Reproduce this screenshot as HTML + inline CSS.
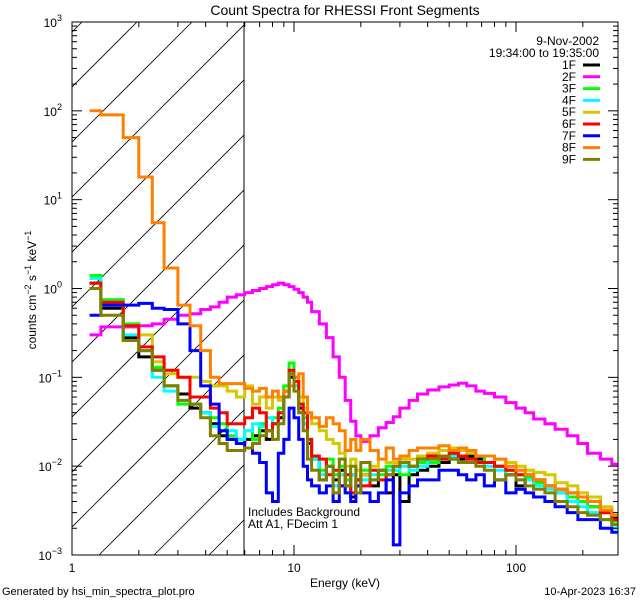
<!DOCTYPE html>
<html><head><meta charset="utf-8">
<style>
html,body{margin:0;padding:0;background:#fff;}
svg{display:block;font-family:"Liberation Sans",sans-serif;}
</style></head>
<body>
<svg id="chart" width="640" height="600" viewBox="0 0 640 600">
<rect width="640" height="600" fill="#fff"/>
<defs><clipPath id="hatchclip"><rect x="72" y="22" width="172" height="533"/></clipPath>
<clipPath id="plotclip"><rect x="72" y="22" width="546" height="533"/></clipPath></defs>
<g id="hatch" clip-path="url(#hatchclip)"></g>
<line x1="244" y1="22" x2="244" y2="555" stroke="#000" stroke-width="1"/>
<g id="series" clip-path="url(#plotclip)"></g>
<rect x="72" y="22" width="546" height="533" fill="none" stroke="#000" stroke-width="1"/>
<g id="axes"></g>
<text x="345" y="15" text-anchor="middle" font-size="14">Count Spectra for RHESSI Front Segments</text>
<text x="345" y="587" text-anchor="middle" font-size="12">Energy (keV)</text>
<text transform="translate(36,290) rotate(-90)" text-anchor="middle" font-size="12">counts cm<tspan dy="-5" font-size="9">−2</tspan><tspan dy="5"> s</tspan><tspan dy="-5" font-size="9">−1</tspan><tspan dy="5"> keV</tspan><tspan dy="-5" font-size="9">−1</tspan></text>
<text x="248" y="516" font-size="12">Includes Background</text>
<text x="248" y="528" font-size="12">Att A1, FDecim  1</text>
<text x="599" y="45" text-anchor="end" font-size="12">9-Nov-2002</text>
<text x="599" y="57" text-anchor="end" font-size="12">19:34:00 to 19:35:00</text>
<g id="legend"></g>
<text x="2" y="595" font-size="11">Generated by hsi_min_spectra_plot.pro</text>
<text x="636" y="595" text-anchor="end" font-size="11">10-Apr-2023 16:37</text>
</svg>
<script>
const edges=[1.2,1.35,1.7,2.0,2.3,2.6,3.0,3.4,3.8,4.2,4.6,5.0,5.5,6.0,6.5,7,7.5,8,8.5,9,9.5,10,10.5,11,11.5,12,13,14,15,16,17,18,19,20,22,24,26,28,30,33,36,40,45,50,55,60,66,72,80,90,100,110,120,135,150,170,190,210,240,270,290];
const seriesNames=["1F","2F","3F","4F","5F","6F","7F","8F","9F"];
const seriesColors=["#000000","#ff00ff","#00ff00","#00ffff","#d4c800","#ff0000","#0000ff","#ff8000","#808000"];
const s1F=[1.15,0.6,0.28,0.17,0.12,0.08,0.065,0.045,0.04,0.03,0.022,0.02,0.018, 0.02,0.022,0.025,0.02,0.03,0.035,0.06,0.1,0.08,0.045,0.03,0.018,0.012,0.007,0.01,0.007,0.009,0.006,0.0045,0.007,0.008,0.006,0.009,0.005,0.008,0.004,0.008,0.009,0.01,0.011,0.012,0.012,0.013,0.012,0.011,0.01,0.008,0.006,0.0075,0.007,0.006,0.005,0.0045,0.004,0.0035,0.003,0.0026];
const s2F=[0.3,0.37,0.37,0.38,0.4,0.45,0.5,0.52,0.58,0.62,0.7,0.8,0.85, 0.9,0.95,1.0,1.05,1.1,1.15,1.1,1.05,0.98,0.9,0.8,0.7,0.55,0.4,0.28,0.17,0.1,0.055,0.032,0.022,0.019,0.022,0.027,0.031,0.036,0.045,0.055,0.065,0.072,0.078,0.082,0.086,0.08,0.07,0.066,0.06,0.052,0.045,0.04,0.034,0.03,0.026,0.022,0.018,0.014,0.012,0.0105];
const s3F=[1.4,0.75,0.4,0.2,0.13,0.08,0.05,0.05,0.04,0.035,0.03,0.022,0.02, 0.025,0.02,0.03,0.025,0.035,0.045,0.08,0.145,0.1,0.05,0.035,0.02,0.012,0.009,0.012,0.008,0.01,0.007,0.008,0.006,0.009,0.007,0.008,0.01,0.009,0.008,0.01,0.011,0.011,0.013,0.014,0.013,0.012,0.013,0.011,0.01,0.009,0.008,0.0075,0.0065,0.006,0.005,0.0045,0.004,0.0035,0.003,0.0024];
const s4F=[1.3,0.65,0.3,0.2,0.1,0.07,0.055,0.05,0.04,0.028,0.025,0.025,0.02, 0.025,0.03,0.028,0.035,0.03,0.04,0.07,0.11,0.08,0.05,0.03,0.02,0.012,0.008,0.01,0.006,0.008,0.005,0.008,0.006,0.007,0.008,0.007,0.009,0.009,0.01,0.009,0.01,0.012,0.012,0.013,0.013,0.011,0.011,0.01,0.009,0.008,0.007,0.007,0.006,0.0055,0.005,0.004,0.0035,0.003,0.0025,0.002];
const s5F=[1.0,0.7,0.38,0.3,0.15,0.11,0.1,0.1,0.09,0.08,0.08,0.07,0.06, 0.08,0.05,0.06,0.045,0.06,0.055,0.07,0.12,0.1,0.06,0.045,0.04,0.03,0.025,0.02,0.018,0.014,0.01,0.012,0.009,0.008,0.01,0.012,0.011,0.011,0.012,0.012,0.013,0.014,0.015,0.016,0.015,0.014,0.013,0.013,0.012,0.011,0.01,0.009,0.0085,0.008,0.0065,0.006,0.005,0.0045,0.0035,0.0028];
const s6F=[1.15,0.7,0.38,0.22,0.17,0.12,0.1,0.06,0.06,0.045,0.04,0.03,0.03, 0.035,0.045,0.04,0.025,0.03,0.04,0.07,0.12,0.09,0.05,0.04,0.02,0.013,0.012,0.008,0.009,0.006,0.008,0.005,0.007,0.006,0.009,0.007,0.008,0.01,0.011,0.01,0.012,0.013,0.012,0.014,0.013,0.012,0.011,0.011,0.01,0.009,0.008,0.008,0.007,0.006,0.0055,0.005,0.0045,0.004,0.003,0.0025];
const s7F=[0.5,0.65,0.65,0.68,0.6,0.58,0.4,0.2,0.08,0.05,0.025,0.02,0.018, 0.016,0.014,0.011,0.005,0.004,0.014,0.02,0.045,0.035,0.02,0.01,0.007,0.006,0.005,0.006,0.004,0.006,0.005,0.004,0.006,0.005,0.004,0.005,0.007,0.0013,0.005,0.006,0.007,0.007,0.009,0.009,0.008,0.007,0.008,0.006,0.007,0.005,0.0055,0.005,0.0045,0.004,0.0035,0.003,0.0025,0.0025,0.002,0.0018];
const s8F=[100,90,50,18,5.5,1.7,0.65,0.38,0.2,0.1,0.085,0.085,0.085, 0.075,0.07,0.075,0.06,0.07,0.06,0.07,0.08,0.1,0.11,0.06,0.04,0.035,0.028,0.035,0.03,0.025,0.015,0.02,0.015,0.02,0.015,0.012,0.016,0.012,0.013,0.015,0.016,0.016,0.017,0.015,0.016,0.015,0.013,0.013,0.012,0.01,0.009,0.008,0.007,0.006,0.0055,0.005,0.0045,0.004,0.0032,0.0028];
const s9F=[1.0,0.5,0.26,0.2,0.12,0.08,0.055,0.05,0.035,0.022,0.018,0.015,0.015, 0.016,0.018,0.022,0.025,0.02,0.03,0.06,0.11,0.07,0.04,0.025,0.012,0.009,0.007,0.01,0.005,0.012,0.006,0.01,0.005,0.011,0.007,0.009,0.008,0.01,0.011,0.01,0.012,0.012,0.013,0.012,0.011,0.011,0.01,0.009,0.007,0.008,0.007,0.006,0.0055,0.005,0.004,0.0035,0.003,0.0028,0.0025,0.0022];
const seriesData=[s1F,s2F,s3F,s4F,s5F,s6F,s7F,s8F,s9F];
const xMajorTicks=[1,10,100];
const xMajorLabels=["1","10","100"];
const yMajorTicks=[1e-3,1e-2,1e-1,1,10,100,1000];
const yMajorExp=["−3","−2","−1","0","1","2","3"];

const NS="http://www.w3.org/2000/svg";
const X0=72,X1=618,Y0=22,Y1=555,DX=222,DY=(Y1-Y0)/6;
function xs(e){return X0+DX*Math.log10(e);}
function ys(v){return Y0+(3-Math.log10(v))*DY;}
function mk(tag,attrs,parent){const el=document.createElementNS(NS,tag);for(const k in attrs)el.setAttribute(k,attrs[k]);parent.appendChild(el);return el;}

// hatch
const hatch=document.getElementById('hatch');
for(let k=-2;k<16;k++){const c=159+55*k;
 const ln=mk('line',{x1:c-Y0+0,y1:Y0,x2:c-Y1,y2:Y1,stroke:'#000','stroke-width':0.8},hatch);
 ln.setAttribute('x1',c-Y0);ln.setAttribute('x2',c-Y1);
 
 }

// series
const sg=document.getElementById('series');
seriesData.forEach((vals,i)=>{
 let d='';
 for(let b=0;b<vals.length;b++){
  const xa=xs(edges[b]),xb=xs(edges[b+1]),y=ys(vals[b]);
  d+=(b===0?'M':'L')+xa.toFixed(1)+','+y.toFixed(1)+'L'+xb.toFixed(1)+','+y.toFixed(1);
 }
 const p=mk('path',{d:d,fill:'none',stroke:seriesColors[i],'stroke-width':3,'stroke-linejoin':'miter'},sg);
 
 
});

// axes ticks
const ax=document.getElementById('axes');
for(let dec=0;dec<3;dec++){for(let m=1;m<10;m++){const e=m*Math.pow(10,dec);if(e<1||xs(e)>X1)continue;
 const x=xs(e),len=m===1?10:5;
 const t1=mk('line',{x1:x,y1:Y1,x2:x,y2:Y1-len,stroke:'#000'},ax);
 
 
 const t2=mk('line',{x1:x,y1:Y0,x2:x,y2:Y0+len,stroke:'#000'},ax);
 
 }}
xMajorTicks.forEach((e,i)=>{const t=mk('text',{x:xs(e),y:572,'text-anchor':'middle','font-size':12},ax);t.textContent=xMajorLabels[i];
 
 });
for(let dec=-3;dec<3;dec++){for(let m=1;m<10;m++){const v=m*Math.pow(10,dec);const y=ys(v),len=m===1?10:5;
 const t1=mk('line',{x1:X0,y1:y,x2:X0+len,y2:y,stroke:'#000'},ax);
 
 
 const t2=mk('line',{x1:X1,y1:y,x2:X1-len,y2:y,stroke:'#000'},ax);
 
 }}
yMajorTicks.forEach((v,i)=>{const t=mk('text',{x:62,y:ys(v)+5,'text-anchor':'end','font-size':12},ax);
 t.innerHTML='10<tspan dy="-6" font-size="9">'+yMajorExp[i]+'</tspan>';
 
 });

// legend
const lg=document.getElementById('legend');
seriesNames.forEach((n,i)=>{const y=65+11.8*i;
 const t=mk('text',{x:576,y:y+4,'text-anchor':'end','font-size':12},lg);t.textContent=n;
 
 
 const l=mk('line',{x1:583,y1:y,x2:600,y2:y,stroke:seriesColors[i],'stroke-width':3},lg);
 
 });
</script>
</body></html>
